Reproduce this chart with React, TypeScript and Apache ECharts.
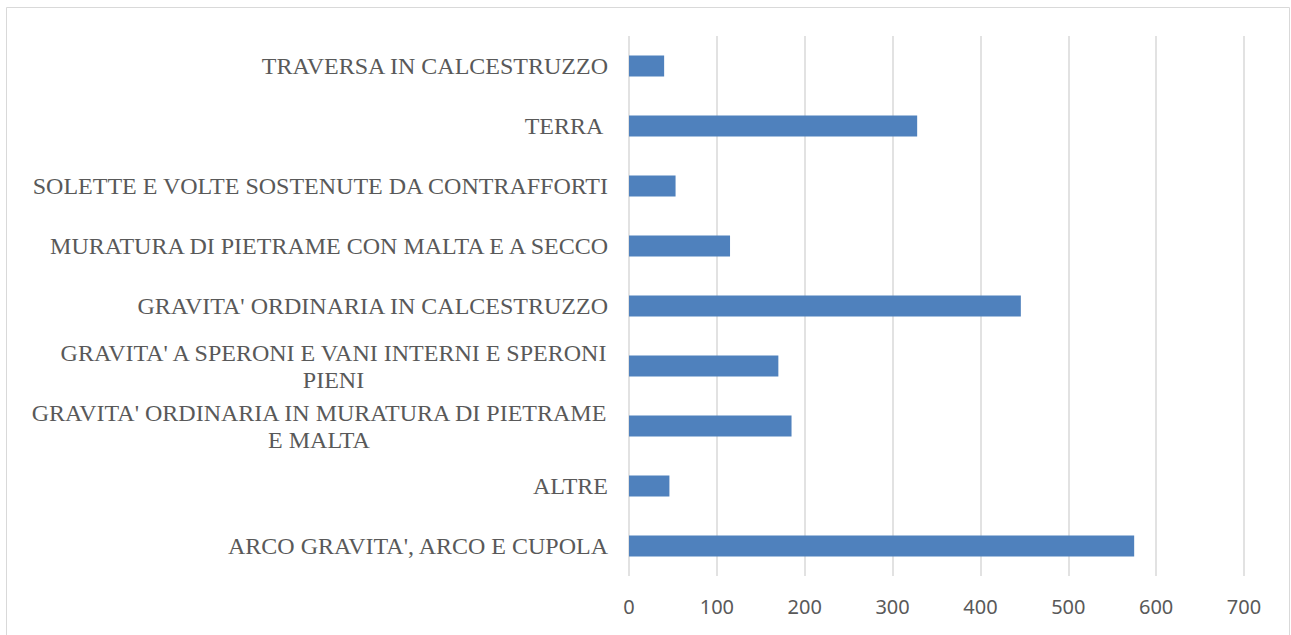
import React, { useEffect, useRef } from "react";
import * as echarts from "echarts";

const categories = [
  "TRAVERSA IN CALCESTRUZZO",
  "TERRA ",
  "SOLETTE E VOLTE SOSTENUTE DA CONTRAFFORTI",
  "MURATURA DI PIETRAME CON MALTA E A SECCO",
  "GRAVITA' ORDINARIA IN CALCESTRUZZO",
  "GRAVITA' A SPERONI E VANI INTERNI E SPERONI PIENI",
  "GRAVITA' ORDINARIA IN MURATURA DI PIETRAME E MALTA",
  "ALTRE",
  "ARCO GRAVITA', ARCO E CUPOLA",
];
const values = [40, 328, 53, 115, 446, 170, 185, 46, 575];
const xTicks = { min: 0, max: 700, interval: 100 };

const SERIF = "'Liberation Serif', 'Times New Roman', serif";
const LABEL_FONT = "24px 'Liberation Serif'";
const MAX_LABEL_W = 595;

let measureCtx: CanvasRenderingContext2D | null = null;
function measure(text: string): number {
  if (!measureCtx) {
    const c = document.createElement("canvas");
    measureCtx = c.getContext("2d");
  }
  if (!measureCtx) return text.length * 13;
  measureCtx.font = LABEL_FONT;
  return measureCtx.measureText(text).width;
}

function wrap(text: string): string[] {
  const words = text.split(" ");
  const lines: string[] = [];
  let cur = "";
  for (const w of words) {
    const t = cur ? cur + " " + w : w;
    if (cur && measure(t.trimEnd()) > MAX_LABEL_W) {
      lines.push(cur);
      cur = w;
    } else {
      cur = t;
    }
  }
  lines.push(cur);
  return lines;
}

export default function App() {
  const ref = useRef<HTMLDivElement>(null);
  useEffect(() => {
    if (!ref.current) return;
    const chart = echarts.init(ref.current, null, { renderer: "svg" });
    const wrapped = categories.map((c) => wrap(c));
    const rich: Record<string, any> = {};
    wrapped.forEach((ls, i) => {
      rich["c" + i] = {
        align: "center",
        width: Math.ceil(Math.max(...ls.map((l) => measure(l)))),
        color: "#595959",
        fontFamily: SERIF,
        fontSize: 24,
        lineHeight: 27,
      };
    });
    chart.setOption({
      animation: false,
      backgroundColor: "#ffffff",
      graphic: [
        {
          type: "rect",
          shape: { x: 6.5, y: 7.5, width: 1283, height: 640 },
          style: { fill: "none", stroke: "#d9d9d9", lineWidth: 1 },
          silent: true,
        },
      ],
      grid: { left: 629, right: 47, top: 36, bottom: 59 },
      xAxis: {
        type: "value",
        min: xTicks.min,
        max: xTicks.max,
        interval: xTicks.interval,
        axisLine: { show: false },
        axisTick: { show: false },
        splitLine: { show: true, lineStyle: { color: "#d9d9d9", width: 1.5 } },
        axisLabel: {
          color: "#595959",
          fontFamily: "'Noto Sans', sans-serif",
          fontSize: 20,
          margin: 20,
        },
      },
      yAxis: {
        type: "category",
        inverse: true,
        data: categories,
        axisLine: { show: false },
        axisTick: { show: false },
        splitLine: { show: false },
        axisLabel: {
          color: "#595959",
          fontFamily: SERIF,
          fontSize: 24,
          margin: 21,
          lineHeight: 27,
          formatter: (v: string, i: number) => {
            const ls = wrapped[i];
            if (!ls || ls.length === 1) return v;
            return ls.map((l) => "{c" + i + "|" + l + "}").join("\n");
          },
          rich,
        },
      },
      series: [
        {
          type: "bar",
          data: values,
          barWidth: 21,
          itemStyle: { color: "#4f81bd" },
        },
      ],
    });
    return () => chart.dispose();
  }, []);
  return (
    <div
      ref={ref}
      style={{ position: "fixed", left: 0, top: 0, width: 1291, height: 635 }}
    />
  );
}
